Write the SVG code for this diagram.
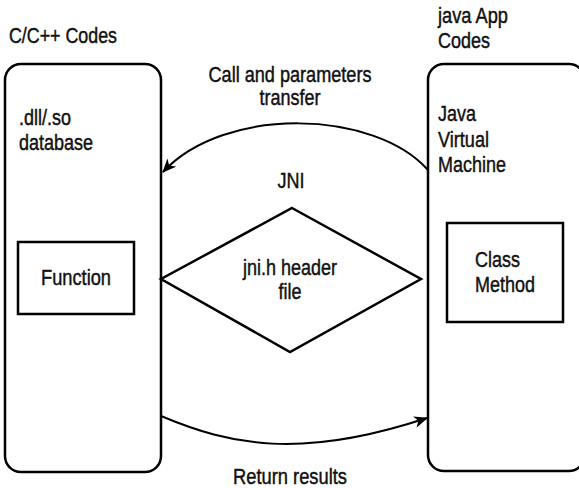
<svg xmlns="http://www.w3.org/2000/svg" width="579" height="488" viewBox="0 0 579 488">
<defs>
<style>
text{font-family:"Liberation Sans Narrow","Liberation Sans",Arial,sans-serif;font-size:22px;fill:#111;stroke:#111;stroke-width:0.45;}
.c{text-anchor:middle;}
.box{fill:#fff;stroke:#000;stroke-width:2.5;}
.conn{fill:none;stroke:#000;stroke-width:2;}
</style>
<marker id="ah" viewBox="0 0 14 12" refX="13" refY="6" markerWidth="14" markerHeight="12" markerUnits="userSpaceOnUse" orient="auto"><path d="M0,0 L14,6 L0,12 L4,6 Z" fill="#000"/></marker>
</defs>
<rect width="579" height="488" fill="#fff"/>
<g id="ccodes">
<text x="9" y="43" textLength="108" lengthAdjust="spacingAndGlyphs">C/C++ Codes</text>
<rect class="box" x="5" y="64" width="156" height="408" rx="16"/>
<text x="19" y="125" textLength="52" lengthAdjust="spacingAndGlyphs">.dll/.so</text>
<text x="19" y="150" textLength="74" lengthAdjust="spacingAndGlyphs">database</text>
</g>
<g id="function">
<rect class="box" x="18" y="242" width="116" height="72"/>
<text class="c" x="76" y="285" textLength="70" lengthAdjust="spacingAndGlyphs">Function</text>
</g>
<g id="javacodes">
<text x="438" y="23" textLength="70" lengthAdjust="spacingAndGlyphs">java App</text>
<text x="438" y="48" textLength="52" lengthAdjust="spacingAndGlyphs">Codes</text>
<rect class="box" x="428" y="64" width="157" height="407" rx="16"/>
<text x="438" y="121" textLength="38" lengthAdjust="spacingAndGlyphs">Java</text>
<text x="438" y="147" textLength="51" lengthAdjust="spacingAndGlyphs">Virtual</text>
<text x="438" y="172" textLength="68" lengthAdjust="spacingAndGlyphs">Machine</text>
</g>
<g id="classmethod">
<rect class="box" x="447" y="223" width="116" height="99"/>
<text x="475" y="267" textLength="45" lengthAdjust="spacingAndGlyphs">Class</text>
<text x="475" y="292" textLength="60" lengthAdjust="spacingAndGlyphs">Method</text>
</g>
<g id="jni">
<text class="c" x="291" y="188" textLength="27" lengthAdjust="spacingAndGlyphs">JNI</text>
<polygon class="box" points="292,208 421,279 290,352 161,279"/>
<text class="c" x="290" y="275" textLength="94" lengthAdjust="spacingAndGlyphs">jni.h header</text>
<text class="c" x="290" y="299" textLength="23" lengthAdjust="spacingAndGlyphs">file</text>
</g>
<g id="connectors">
<path class="conn" d="M428,170 C375,110 225,105 163,172" marker-end="url(#ah)"/>
<path class="conn" d="M161,416 C230,445 300,460 427,418" marker-end="url(#ah)"/>
<text class="c" x="290" y="82" textLength="163" lengthAdjust="spacingAndGlyphs">Call and parameters</text>
<text class="c" x="290" y="105" textLength="61" lengthAdjust="spacingAndGlyphs">transfer</text>
<text class="c" x="290" y="484" textLength="114" lengthAdjust="spacingAndGlyphs">Return results</text>
</g>
</svg>
